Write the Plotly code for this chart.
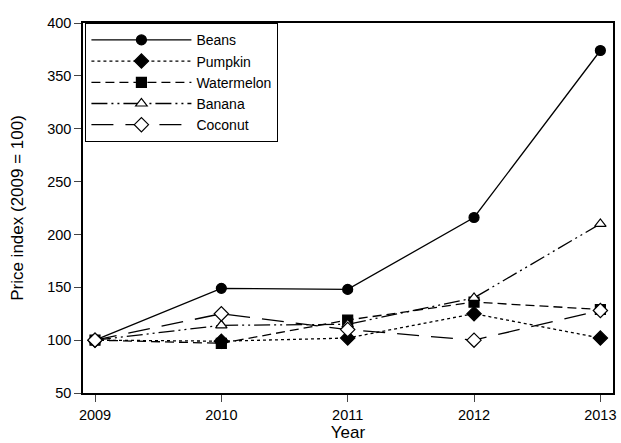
import plotly.graph_objects as go

years = [2009, 2010, 2011, 2012, 2013]
beans = [100, 149, 148, 216, 374]
pumpkin = [100, 99, 102, 125, 102]
watermelon = [100, 97, 119, 136, 129]
banana = [100, 114, 115, 140, 210]
coconut = [100, 125, 110, 100, 128]

series = [
    ("Beans", beans, "solid", "circle", "black"),
    ("Pumpkin", pumpkin, "dot", "diamond", "black"),
    ("Watermelon", watermelon, "9px,5px", "square", "black"),
    ("Banana", banana, "16px,4px,2px,4px,2px,4px", "triangle-up", "white"),
    ("Coconut", coconut, "22px,12px", "diamond", "white"),
]

fig = go.Figure()
for name, vals, dash, sym, fill in series:
    fig.add_trace(go.Scatter(
        x=years, y=vals, name=name, mode="lines+markers",
        line=dict(color="black", width=1.3, dash=dash),
        marker=dict(symbol=sym, size=10 if sym != "diamond" else 11, color=fill,
                    line=dict(color="black", width=1.2)),
    ))

fig.update_layout(
    width=621, height=443,
    margin=dict(l=83, r=5, t=23, b=47),
    paper_bgcolor="white", plot_bgcolor="white",
    font=dict(family="Liberation Sans, Arial, sans-serif", color="black", size=14),
    showlegend=True,
    legend=dict(x=0.004, y=1, xanchor="left", yanchor="top",
                bordercolor="black", borderwidth=1.3, bgcolor="white",
                font=dict(size=14), itemwidth=100, tracegroupgap=0),
    xaxis=dict(range=[2008.905, 2013.1], tickvals=years, ticks="outside", ticklen=7,
               ticklabelstandoff=1,
               showline=True, linecolor="black", linewidth=1.5, mirror=True,
               showgrid=False, zeroline=False, tickfont=dict(size=14.5),
               title=dict(text="Year", font=dict(size=17), standoff=3)),
    yaxis=dict(range=[50, 400], tickvals=[50, 100, 150, 200, 250, 300, 350, 400],
               ticks="outside", ticklen=7,
               showline=True, linecolor="black", linewidth=1.5, mirror=True,
               showgrid=False, zeroline=False, tickfont=dict(size=14.5),
               title=dict(text="Price index (2009 = 100)", font=dict(size=17), standoff=19)),
)

fig.write_html("out.html", config={"displayModeBar": False},
               post_script="document.body.style.margin='0';")
